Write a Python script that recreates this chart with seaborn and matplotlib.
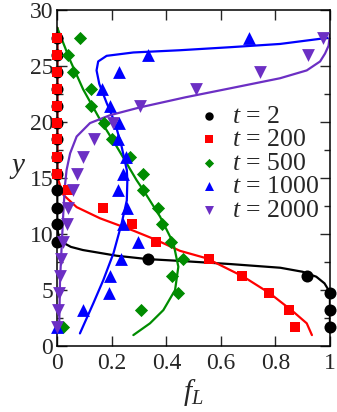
import matplotlib
matplotlib.use("Agg")
import matplotlib.pyplot as plt
import seaborn as sns
import pandas as pd

# ---------------- data ----------------
y_grid = [1.7, 3.2, 4.75, 6.25, 7.8, 9.3, 10.85, 12.35, 13.9, 15.4,
          16.9, 18.45, 19.95, 21.45, 22.95, 24.5, 26.0, 27.5]

fL_t2 = [1.0, 1.0, 1.0, 0.915, 0.332, 0, 0, 0, 0, 0,
         0, 0, 0, 0, 0, 0, 0, 0]
fL_t200 = [0.872, 0.85, 0.778, 0.677, 0.557, 0.362, 0.273, 0.169, 0.04, 0,
           0, 0, 0, 0, 0, 0, 0, 0]
fL_t500 = [0.02, 0.306, 0.442, 0.42, 0.462, 0.417, 0.385, 0.368, 0.313, 0.313,
           0.267, 0.2, 0.172, 0.122, 0.122, 0.056, 0.04, 0.083]
fL_t1000 = [0.0, 0.095, 0.19, 0.193, 0.233, 0.297, 0.242, 0.257, 0.224, 0.242,
            0.252, 0.224, 0.228, 0.193, 0.165, 0.226, 0.334, 0.703]
fL_t2000 = [0.0, 0.003, 0.005, 0.01, 0.014, 0.02, 0.035, 0.041, 0.059, 0.071,
            0.095, 0.136, 0.206, 0.303, 0.509, 0.744, 0.921, 0.976]

# theory curves (x, y)
curve_t2_x = [0, 0, 0.004, 0.016, 0.05, 0.094, 0.218, 0.332, 0.45, 0.634,
              0.818, 0.90, 0.95, 0.98, 0.995, 1.0, 1.0]
curve_t2_y = [28.4, 10.6, 9.9, 9.3, 8.85, 8.57, 8.06, 7.76, 7.6, 7.32,
              6.99, 6.63, 6.19, 5.6, 5.0, 4.5, 1.2]
curve_t200_x = [0, 0, 0.004, 0.022, 0.071, 0.157, 0.279, 0.36, 0.45, 0.548,
                0.683, 0.78, 0.866, 0.915, 0.934]
curve_t200_y = [28.4, 15.5, 14.8, 13.5, 12.4, 11.4, 10.3, 9.5, 8.5, 7.83,
                6.19, 4.7, 3.06, 2.03, 0.98]
curve_t500_x = [0, 0.047, 0.095, 0.157, 0.218, 0.291, 0.316, 0.377, 0.426,
                0.444, 0.432, 0.389, 0.34, 0.279]
curve_t500_y = [28.4, 25.5, 22.9, 20.2, 17.8, 14.8, 13.9, 11.55, 9.17,
                7.08, 5.0, 3.21, 2.03, 0.98]
curve_t1000_x = [0.99, 0.817, 0.634, 0.45, 0.279, 0.181, 0.15, 0.144, 0.154,
                 0.181, 0.212, 0.236, 0.255, 0.257, 0.255, 0.236, 0.206,
                 0.169, 0.132, 0.083]
curve_t1000_y = [27.5, 26.96, 26.67, 26.4, 26.2, 25.9, 25.4, 24.6, 23.4,
                 21.7, 19.9, 17.8, 15.7, 14.8, 13.0, 10.95, 8.28,
                 5.9, 3.81, 1.13]
curve_t2000_x = [1.0, 0.995, 0.982, 0.964, 0.915, 0.817, 0.634, 0.47, 0.303,
                 0.193, 0.12, 0.071, 0.047, 0.034, 0.028, 0.022, 0.016,
                 0.01, 0.007]
curve_t2000_y = [27.8, 26.8, 26.1, 25.4, 24.6, 23.9, 23.0, 22.2, 21.3,
                 20.6, 19.9, 18.7, 17.2, 15.7, 14.3, 11.85, 8.87,
                 5.9, 1.7]

x_ticks = [0, 0.2, 0.4, 0.6, 0.8, 1]
x_ticklabels = ["0", "0.2", "0.4", "0.6", "0.8", "1"]
y_ticks = [0, 5, 10, 15, 20, 25, 30]

# ---------------- style ----------------
sns.set_style("ticks")
plt.rcParams["font.family"] = ["Liberation Serif", "DejaVu Serif"]
plt.rcParams["mathtext.fontset"] = "custom"
plt.rcParams["mathtext.rm"] = "Liberation Serif"
plt.rcParams["mathtext.it"] = "Liberation Serif:italic"

purple = "#6c2fc4"
green = "#008c00"
series = [
    ("2", fL_t2, curve_t2_x, curve_t2_y, "black", "o", 75),
    ("200", fL_t200, curve_t200_x, curve_t200_y, "#ff0000", "s", 60),
    ("500", fL_t500, curve_t500_x, curve_t500_y, green, "D", 45),
    ("1000", fL_t1000, curve_t1000_x, curve_t1000_y, "#0000ff", "^", 85),
    ("2000", fL_t2000, curve_t2000_x, curve_t2000_y, purple, "v", 85),
]

fig = plt.figure(figsize=(3.37, 4.12), dpi=100)
ax = fig.add_axes([0.170, 0.160, 0.809, 0.816])

for t, fx, cx, cy, col, mk, sz in series:
    curve = pd.DataFrame({"x": cx, "y": cy})
    sns.lineplot(data=curve, x="x", y="y", sort=False, estimator=None,
                 color=col, lw=1.6, ax=ax, legend=False)
    pts = pd.DataFrame({"fL": fx, "y": y_grid})
    sns.scatterplot(data=pts, x="fL", y="y", color=col, marker=mk, s=sz,
                    linewidth=0, ax=ax, label=r"$t$ = " + t, clip_on=False,
                    zorder=3)

ax.set_xlim(0, 1)
ax.set_ylim(0, 30)
ax.set_xticks(x_ticks)
ax.set_xticklabels(x_ticklabels)
ax.set_yticks(y_ticks)
ax.set_yticks([2.5, 7.5, 12.5, 17.5, 22.5, 27.5], minor=True)
ax.tick_params(which="both", direction="in", top=True, right=True,
               labelsize=17, width=1.0)
ax.tick_params(axis="x", pad=5)
ax.tick_params(axis="y", pad=3)
ax.tick_params(which="major", length=7)
ax.tick_params(which="minor", length=4)
for sp in ax.spines.values():
    sp.set_linewidth(1.1)
    sp.set_color("black")

ax.set_xlabel(r"$f_L$", fontsize=21, labelpad=2)
ax.set_ylabel(r"$y$", fontsize=21, rotation=0)
ax.yaxis.set_label_coords(-0.145, 0.49)

ax.legend(loc="upper left", bbox_to_anchor=(0.515, 0.718), frameon=False,
          fontsize=18.5, handlelength=0.9, handletextpad=0.42,
          labelspacing=0.02, borderpad=0, borderaxespad=0, markerscale=0.7)

fig.savefig("out.png", dpi=100)
